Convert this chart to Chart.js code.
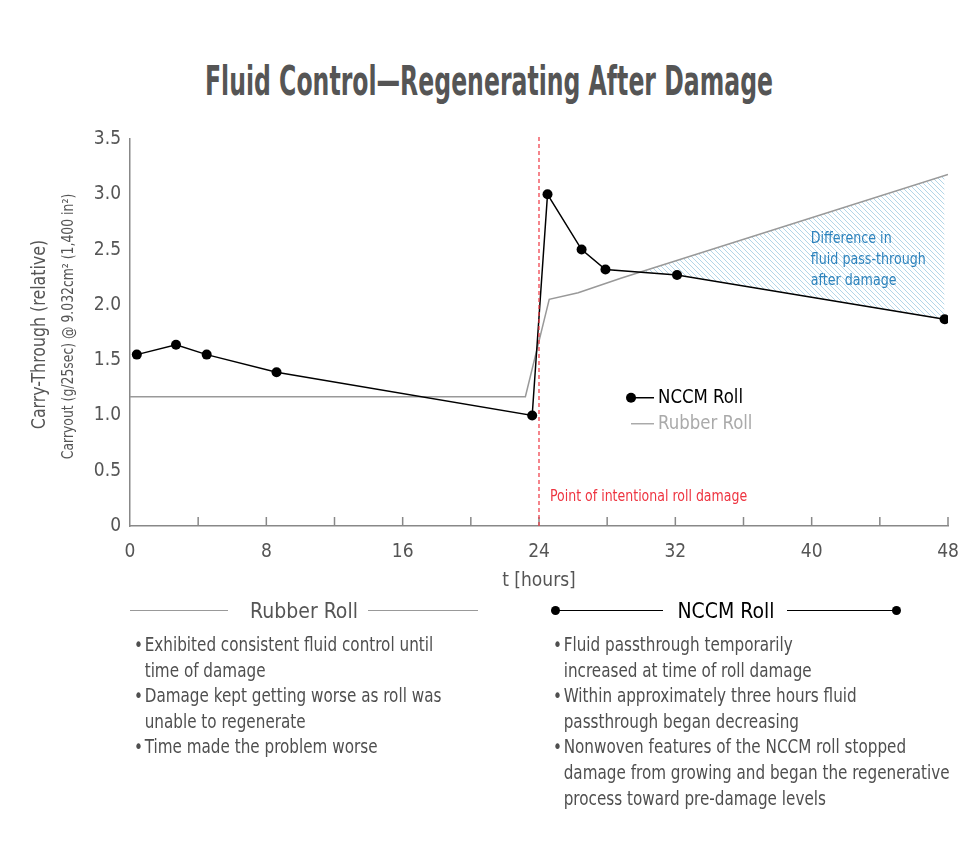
<!DOCTYPE html>
<html>
<head>
<meta charset="utf-8">
<script src="https://cdn.jsdelivr.net/npm/chart.js@4.4.1/dist/chart.umd.min.js"></script>
<style>
  html, body { margin: 0; padding: 0; background: #fff; }
  body {
    width: 978px; height: 842px; position: relative; overflow: hidden;
    font-family: "DejaVu Sans Condensed", "Liberation Sans Narrow", Roboto, sans-serif;
    color: #555;
  }
  .title {
    position: absolute; top: 56px; left: 0; white-space: nowrap;
    font-size: 41px; font-weight: bold; color: #555; line-height: 50px;
    transform-origin: 0 0;
  }
  #wrap { position: absolute; left: 0; top: 0; width: 978px; height: 600px; }
  .head { position: absolute; top: 596px; height: 30px; font-size: 21px; line-height: 30px; }
  .head .rule { position: absolute; top: 14px; height: 1px; }
  .head .dot { position: absolute; top: 10px; width: 9px; height: 9px; border-radius: 50%; background: #000; }
  .notes {
    position: absolute; top: 632px; margin: 0; padding: 0; list-style: none;
    font-size: 19px; line-height: 25.6px; white-space: nowrap;
    transform: scaleX(0.89); transform-origin: 0 0; color: #4f4f4f;
  }
  .notes li { padding-left: 12px; }
  .notes li .b { display: inline-block; width: 12px; margin-left: -12px; }
</style>
</head>
<body>
<div class="title" id="title">Fluid Control—Regenerating After Damage</div>
<div id="wrap"><canvas id="fluidChart"></canvas></div>

<div class="head" style="left:130px;width:348px;color:#555;">
  <div class="rule" style="left:0;width:98px;background:#999;"></div>
  <div style="position:absolute;left:0;width:348px;text-align:center;">Rubber Roll</div>
  <div class="rule" style="left:238px;width:110px;background:#999;"></div>
</div>
<ul class="notes" style="left:134px;">
  <li><span class="b">•</span>Exhibited consistent fluid control until<br>time of damage</li>
  <li><span class="b">•</span>Damage kept getting worse as roll was<br>unable to regenerate</li>
  <li><span class="b">•</span>Time made the problem worse</li>
</ul>

<div class="head" style="left:551px;width:350px;color:#000;">
  <div class="dot" style="left:0;"></div>
  <div class="rule" style="left:4px;width:108px;background:#000;"></div>
  <div style="position:absolute;left:0;width:350px;text-align:center;">NCCM Roll</div>
  <div class="rule" style="left:236px;width:110px;background:#000;"></div>
  <div class="dot" style="left:341px;"></div>
</div>
<ul class="notes" style="left:553px;">
  <li><span class="b">•</span>Fluid passthrough temporarily<br>increased at time of roll damage</li>
  <li><span class="b">•</span>Within approximately three hours fluid<br>passthrough began decreasing</li>
  <li><span class="b">•</span>Nonwoven features of the NCCM roll stopped<br>damage from growing and began the regenerative<br>process toward pre-damage levels</li>
</ul>

<script>
const nccmHours = [0.4, 2.7, 4.5, 8.6, 23.6, 24.5, 26.5, 27.9, 32.1, 47.8];
const nccmValues = [1.55, 1.64, 1.55, 1.39, 1.00, 3.00, 2.50, 2.32, 2.27, 1.87];
const rubberHours = [0, 23.2, 24.6, 26.3, 28.8, 48];
const rubberValues = [1.17, 1.17, 2.05, 2.11, 2.24, 3.18];
// top edge of the hatched "difference" area (rubber roll after damage)
const gapHours = [28.8, 48];
const gapValues = [2.24, 3.18];
const xTicks = [0, 4, 8, 12, 16, 20, 24, 28, 32, 36, 40, 44, 48];
const xLabels = [0, 8, 16, 24, 32, 40, 48];
const yTicks = [0, 0.5, 1.0, 1.5, 2.0, 2.5, 3.0, 3.5];
const damageHour = 24;

const FONT = '"DejaVu Sans Condensed", "Liberation Sans Narrow", Roboto, sans-serif';

// squeeze the title to the width it has in the original
const titleEl = document.getElementById("title");
const tw = titleEl.getBoundingClientRect().width;
titleEl.style.left = "205px";
titleEl.style.transform = "scaleX(" + (568 / tw) + ")";

function toPoints(xs, ys) {
  return xs.map((x, i) => ({ x: x, y: ys[i] }));
}

function makeHatch() {
  const c = document.createElement("canvas");
  c.width = 5;
  c.height = 5;
  const g = c.getContext("2d");
  g.strokeStyle = "#b3d6e8";
  g.lineWidth = 1;
  g.beginPath();
  g.moveTo(-1, -1); g.lineTo(6, 6);
  g.moveTo(-1, 4); g.lineTo(1, 6);
  g.moveTo(4, -1); g.lineTo(6, 1);
  g.stroke();
  return g.createPattern(c, "repeat");
}

function narrowText(ctx, text, x, y, size, sx) {
  ctx.save();
  ctx.translate(x, y);
  ctx.scale(sx, 1);
  ctx.font = size + "px " + FONT;
  ctx.fillText(text, 0, 0);
  ctx.restore();
}

const decorations = {
  id: "decorations",
  afterDatasetsDraw(chart) {
    const { ctx, chartArea, scales } = chart;
    const x = scales.x, y = scales.y;
    ctx.save();

    // inner tick marks on the x axis
    ctx.strokeStyle = "#888";
    ctx.lineWidth = 1.5;
    xTicks.forEach((t) => {
      if (t === 0) return;
      const px = x.getPixelForValue(t);
      ctx.beginPath();
      ctx.moveTo(px, chartArea.bottom);
      ctx.lineTo(px, chartArea.bottom - 9);
      ctx.stroke();
    });

    // damage marker
    const dx = x.getPixelForValue(damageHour);
    ctx.strokeStyle = "#ee3440";
    ctx.lineWidth = 1.2;
    ctx.setLineDash([4, 3]);
    ctx.beginPath();
    ctx.moveTo(dx, chartArea.top - 2);
    ctx.lineTo(dx, chartArea.bottom);
    ctx.stroke();
    ctx.setLineDash([]);
    ctx.fillStyle = "#ee3440";
    ctx.textBaseline = "middle";
    narrowText(ctx, "Point of intentional roll damage", dx + 11, y.getPixelForValue(0.26), 15.5, 0.9);

    // inline legend
    const lx = x.getPixelForValue(29.4);
    const ly1 = y.getPixelForValue(1.16);
    const ly2 = ly1 + 26;
    ctx.strokeStyle = "#000";
    ctx.lineWidth = 1.5;
    ctx.beginPath(); ctx.moveTo(lx, ly1); ctx.lineTo(lx + 23, ly1); ctx.stroke();
    ctx.fillStyle = "#000";
    ctx.beginPath(); ctx.arc(lx, ly1, 5, 0, Math.PI * 2); ctx.fill();
    ctx.strokeStyle = "#aaa";
    ctx.beginPath(); ctx.moveTo(lx, ly2); ctx.lineTo(lx + 23, ly2); ctx.stroke();
    ctx.fillStyle = "#000";
    narrowText(ctx, "NCCM Roll", lx + 27, ly1, 20, 0.92);
    ctx.fillStyle = "#aaa";
    narrowText(ctx, "Rubber Roll", lx + 27, ly2, 20, 0.92);

    // difference annotation
    ctx.fillStyle = "#2d83bd";
    const ax = x.getPixelForValue(39.95);
    const ay = y.getPixelForValue(2.6);
    narrowText(ctx, "Difference in", ax, ay, 16, 0.88);
    narrowText(ctx, "fluid pass-through", ax, ay + 21, 16, 0.88);
    narrowText(ctx, "after damage", ax, ay + 42, 16, 0.88);

    // y axis titles
    const cy = (chartArea.top + chartArea.bottom) / 2 - 2;
    ctx.fillStyle = "#555";
    ctx.textAlign = "center";
    ctx.translate(40, cy);
    ctx.rotate(-Math.PI / 2);
    narrowText(ctx, "Carry-Through (relative)", -4, 0, 20, 0.88);
    narrowText(ctx, "Carryout (g/25sec) @ 9.032cm\u00b2 (1,400 in\u00b2)", 4, 29, 15, 0.92);
    ctx.restore();
  }
};

const hatch = makeHatch();

new Chart(document.getElementById("fluidChart"), {
  type: "line",
  data: {
    datasets: [
      {
        label: "NCCM Roll",
        data: toPoints(nccmHours, nccmValues),
        borderColor: "#000",
        borderWidth: 1.5,
        pointRadius: 5,
        pointBackgroundColor: "#000",
        pointBorderWidth: 0,
        tension: 0,
        fill: false,
        order: 1,
      },
      {
        label: "Rubber Roll",
        data: toPoints(rubberHours, rubberValues),
        borderColor: "#999",
        borderWidth: 1.5,
        pointRadius: 0,
        tension: 0,
        fill: false,
        order: 2,
      },
      {
        label: "Difference",
        data: toPoints(gapHours, gapValues),
        borderWidth: 0,
        borderColor: "rgba(0,0,0,0)",
        pointRadius: 0,
        tension: 0,
        fill: { target: 0, above: hatch, below: "rgba(0,0,0,0)" },
        order: 3,
      },
    ],
  },
  options: {
    responsive: true,
    maintainAspectRatio: false,
    animation: false,
    events: [],
    layout: { padding: { top: 139, right: 30, bottom: 0, left: 0 } },
    plugins: {
      legend: { display: false },
      tooltip: { enabled: false },
    },
    scales: {
      x: {
        type: "linear",
        min: 0,
        max: 48,
        afterBuildTicks: (s) => { s.ticks = xTicks.map((v) => ({ value: v })); },
        afterFit: (s) => { s.height = 74; },
        grid: { display: false, drawTicks: false },
        border: { display: true, color: "#888", width: 1.5 },
        ticks: {
          color: "#555",
          font: { family: FONT, size: 19 },
          padding: 15,
          maxRotation: 0,
          autoSkip: false,
          callback: (v) => (xLabels.includes(v) ? String(v) : ""),
        },
        title: {
          display: true,
          text: "t [hours]",
          color: "#555",
          font: { family: FONT, size: 19 },
          padding: { top: 0, bottom: 8 },
        },
      },
      y: {
        min: 0,
        max: 3.5,
        afterBuildTicks: (s) => { s.ticks = yTicks.map((v) => ({ value: v })); },
        afterFit: (s) => { s.width = 130; },
        grid: { display: false, drawTicks: false },
        border: { display: true, color: "#888", width: 1.5 },
        ticks: {
          color: "#555",
          font: { family: FONT, size: 19 },
          padding: 9,
          callback: (v) => (v === 0 ? "0" : v.toFixed(1)),
        },
      },
    },
  },
  plugins: [decorations],
});
</script>
</body>
</html>
